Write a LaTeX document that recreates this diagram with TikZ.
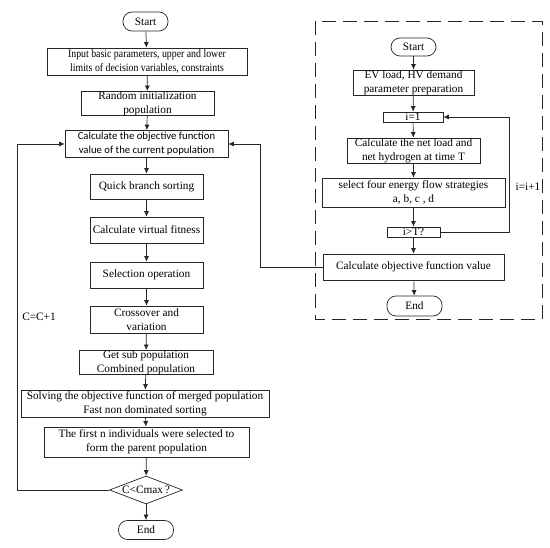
\documentclass[tikz,border=0pt]{standalone}
\usepackage{fontspec}
\setmainfont{Liberation Serif}
\newfontfamily\calibrifont{Carlito}
\newfontfamily\narrowfont[FakeStretch=0.87]{Liberation Serif}
\usetikzlibrary{arrows.meta,shapes.geometric}

\begin{document}
\begin{tikzpicture}[x=1pt,y=-1pt,
    box/.style={draw=black!85,line width=0.7pt,align=center,inner xsep=1pt,inner ysep=0pt,
        font=\fontsize{11.3}{14}\selectfont},
    term/.style={box,rounded corners=9pt},
    test/.style={draw=black!85,line width=0.7pt,diamond,aspect=2.6,inner sep=0pt},
    flow/.style={draw=black!85,line width=0.7pt,-{Latex[length=5.5pt,width=5pt]}},
    note/.style={font=\fontsize{11.3}{14}\selectfont,inner sep=0pt}]
\useasboundingbox (0,0) rectangle (550,548);
% main loop
\node[term,minimum width=45pt,minimum height=19pt] (start1) at (145.5,21.5) {Start};
\node[box,minimum width=200pt,minimum height=27pt,font=\narrowfont\fontsize{11.3}{14}\selectfont] (input) at (147,61.5) {Input basic parameters, upper and lower\\limits of decision variables, constraints};
\node[box,minimum width=133pt,minimum height=23pt] (rand) at (147.5,103.5) {Random initialization\\population};
\node[box,minimum width=163pt,minimum height=27pt,font=\calibrifont\fontsize{10.7}{14}\selectfont] (calc) at (146.5,144) {Calculate the objective function\\value of the current population};
\node[box,minimum width=113pt,minimum height=25pt] (quick) at (146.5,186.5) {Quick branch sorting};
\node[box,minimum width=113pt,minimum height=26pt] (virt) at (146.5,230) {Calculate virtual fitness};
\node[box,minimum width=113pt,minimum height=26pt] (sel) at (146.5,275) {Selection operation};
\node[box,minimum width=113pt,minimum height=27pt] (cross) at (146.5,319.5) {Crossover and\\variation};
\node[box,minimum width=134pt,minimum height=23pt] (sub) at (146,362.5) {Get sub population\\Combined population};
\node[box,minimum width=248pt,minimum height=27pt] (solve) at (145,403.5) {Solving the objective function of merged population\\Fast non dominated sorting};
\node[box,minimum width=205pt,minimum height=30pt] (first) at (146.5,442) {The first n individuals were selected to\\form the parent population};
\node[test,minimum width=73pt,minimum height=28pt,label={[note]center:C\textless Cmax\,?}] (cmax) at (146,490) {};
\node[term,minimum width=55pt,minimum height=19pt] (end1) at (146,530) {End};
\node[note] (cc) at (39,317) {C=C+1};
\draw[flow] (start1) -- (input);
\draw[flow] (input) -- (rand);
\draw[flow] (rand) -- (calc);
\draw[flow] (calc) -- (quick);
\draw[flow] (quick) -- (virt);
\draw[flow] (virt) -- (sel);
\draw[flow] (sel) -- (cross);
\draw[flow] (cross) -- (sub);
\draw[flow] (sub) -- (solve);
\draw[flow] (solve) -- (first);
\draw[flow] (first) -- (cmax);
\draw[flow] (cmax) -- (end1);
\draw[flow] (cmax.west) -- ++(-92,0) |- (calc.west);
% energy flow part
\draw[black!85,line width=0.7pt,dash pattern=on 14pt off 7pt] (315,21) rectangle (542,319);
\node[term,minimum width=45pt,minimum height=18pt] (start2) at (413.5,47) {Start};
\node[box,minimum width=121pt,minimum height=25pt] (ev) at (413.5,82.5) {EV load, HV demand\\parameter preparation};
\node[box,minimum width=60pt,minimum height=10pt,inner sep=0pt] (i1) at (413,117) {i=1};
\node[box,minimum width=133pt,minimum height=25pt] (net) at (413.5,150.5) {Calculate the net load and\\net hydrogen at time T};
\node[box,minimum width=183pt,minimum height=29pt] (strat) at (413.5,192.5) {select four energy flow strategies\\a, b, c , d};
\node[box,minimum width=53pt,minimum height=10pt,inner sep=0pt] (iT) at (413.5,232) {i\textgreater T?};
\node[box,minimum width=181pt,minimum height=26pt] (obj) at (413.5,267) {Calculate objective function value};
\node[term,minimum width=55pt,minimum height=20pt] (end2) at (414.5,306) {End};
\node[note] (ii) at (528,187) {i=i+1};
\draw[flow] (start2) -- (ev);
\draw[flow] (ev) -- (i1);
\draw[flow] (i1) -- (net);
\draw[flow] (net) -- (strat);
\draw[flow] (strat) -- (iT);
\draw[flow] (iT) -- (obj);
\draw[flow] (obj) -- (end2);
\draw[flow] (iT.east) -- ++(69,0) |- (i1.east);
\draw[flow] (obj.west) -- ++(-62,0) |- (calc.east);
\end{tikzpicture}
\end{document}
